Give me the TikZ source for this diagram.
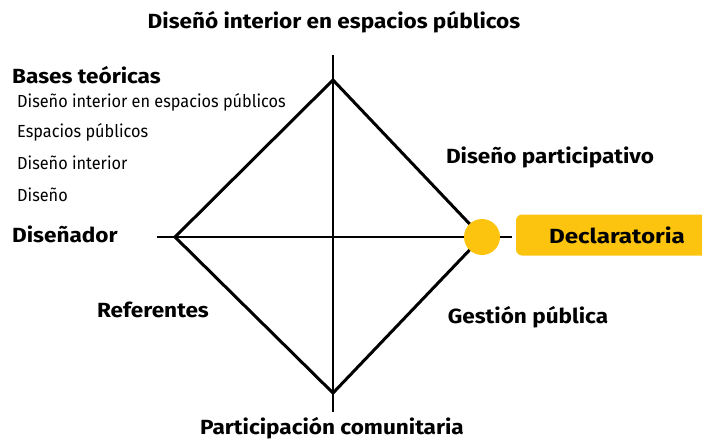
\documentclass[tikz,border=0pt]{standalone}
\usepackage{graphicx}
\usepackage{fontspec}
\setmainfont{Fira Sans}
\definecolor{gold}{RGB}{253,196,15}
\newcommand\wideb[1]{\scalebox{1.1}[1]{#1}}
\newcommand\widel[1]{\scalebox{0.93}[1]{#1}}
\begin{document}
\begin{tikzpicture}[x=1pt,y=-1pt,
  lbl/.style={font=\bfseries\fontsize{20.5}{24}\selectfont, inner sep=0pt},
  litem/.style={font=\fontsize{17.5}{20}\selectfont, inner sep=0pt, anchor=west},
  axis/.style={line width=1.8pt},
  diam/.style={line width=3pt, line join=miter}]
\useasboundingbox (0,0) rectangle (702,439);
% axes
\coordinate (vt) at (333,55);
\coordinate (vb) at (333,412);
\coordinate (hl) at (157,237);
\coordinate (hr) at (512,237);
\draw[axis] (vt) -- (vb);
\draw[axis] (hl) -- (hr);
% diamond
\coordinate (T) at (333,80);
\coordinate (L) at (175,237);
\coordinate (R) at (482,237);
\coordinate (B) at (333,393);
\draw[diam] (T) -- (R) -- (B) -- (L) -- cycle;
% marker and box
\node[circle, fill=gold, minimum size=36pt, inner sep=0pt] (dot) at (R) {};
\node[fill=gold, rounded corners=6pt, minimum width=202pt, minimum height=41pt, inner sep=0pt, lbl] (decl) at (617,235) {\scalebox{1.18}[1]{Declaratoria}};
% labels
\node[lbl] (title) at (334,22) {\wideb{Diseñó interior en espacios públicos}};
\node[lbl, anchor=west] (bases) at (12,75) {\wideb{Bases teóricas}};
\node[litem] (i1) at (17,102) {\widel{Diseño interior en espacios públicos}};
\node[litem] (i2) at (17,132) {\widel{Espacios públicos}};
\node[litem] (i3) at (17,163) {\widel{Diseño interior}};
\node[litem] (i4) at (17,195) {\widel{Diseño}};
\node[lbl, anchor=west] (dis) at (12,234) {\wideb{Diseñador}};
\node[lbl] (part) at (550,157) {\wideb{Diseño participativo}};
\node[lbl] (ref) at (153,310) {\wideb{Referentes}};
\node[lbl] (gest) at (528,317) {\wideb{Gestión pública}};
\node[lbl] (com) at (332,428) {\wideb{Participación comunitaria}};
\end{tikzpicture}
\end{document}
